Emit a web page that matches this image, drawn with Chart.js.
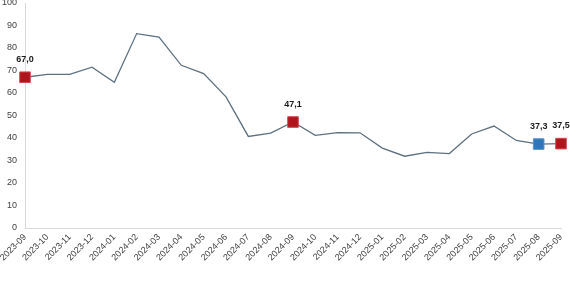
<!DOCTYPE html>
<html>
<head>
<meta charset="utf-8">
<script src="https://cdn.jsdelivr.net/npm/chart.js@4/dist/chart.umd.min.js"></script>
<style>
  html, body { margin: 0; padding: 0; background: #fff; }
  #wrap { width: 570px; height: 285px; position: relative; }
</style>
</head>
<body>
<div id="wrap"><canvas id="myChart"></canvas></div>
<script>
// --- data ---
const months = [
    '2023-09', '2023-10', '2023-11', '2023-12', '2024-01', '2024-02', '2024-03',
    '2024-04', '2024-05', '2024-06', '2024-07', '2024-08', '2024-09', '2024-10',
    '2024-11', '2024-12', '2025-01', '2025-02', '2025-03', '2025-04', '2025-05',
    '2025-06', '2025-07', '2025-08', '2025-09'
];
const values = [
    67.0, 68.3, 68.3, 71.5, 64.8, 86.4, 84.8,
    72.3, 68.6, 58.3, 40.7, 42.2, 47.1, 41.2,
    42.4, 42.3, 35.5, 31.9, 33.6, 33.1, 41.8,
    45.3, 38.9, 37.3, 37.5
];
// which points get a marker + label, and in what colour
const highlighted = ['2023-09', '2024-09', '2025-08', '2025-09'];
const blueMonths = ['2025-08'];
const yTicks = [0, 10, 20, 30, 40, 50, 60, 70, 80, 90, 100];

const RED = '#b0151d';
const BLUE = '#2f78b8';

const pointColors = months.map(m => blueMonths.includes(m) ? BLUE : RED);
const pointBorders = months.map(m => blueMonths.includes(m) ? '#5b93c9' : '#cf4a4f');
const pointRadii = months.map(m => highlighted.includes(m) ? 7.5 : 0);

// simple value labels above the marked points (comma decimal)
const valueLabels = {
    id: 'valueLabels',
    afterDatasetsDraw(chart) {
        const ctx = chart.ctx;
        const meta = chart.getDatasetMeta(0);
        ctx.save();
        ctx.font = 'bold 9px "Liberation Sans", Arial, sans-serif';
        ctx.fillStyle = '#1a1a1a';
        ctx.textAlign = 'center';
        ctx.textBaseline = 'middle';
        months.forEach((m, i) => {
            if (!highlighted.includes(m)) return;
            const pt = meta.data[i];
            ctx.fillText(values[i].toFixed(1).replace('.', ','), pt.x, pt.y - 18);
        });
        ctx.restore();
    }
};

function renderChart() {
    const ctx = document.getElementById('myChart').getContext('2d');

    const chartConfig = {
        type: 'line',
        data: {
            labels: months,
            datasets: [{
                data: values,
                borderColor: '#5d7181',
                borderWidth: 1.3,
                tension: 0,
                clip: false,
                pointStyle: 'rect',
                pointRadius: pointRadii,
                pointHoverRadius: pointRadii,
                pointBackgroundColor: pointColors,
                pointBorderColor: pointBorders,
                pointBorderWidth: 1
            }]
        },
        options: {
            responsive: true,
            maintainAspectRatio: false,
            animation: false,
            layout: {
                autoPadding: false,
                padding: { left: 0, right: 9, top: 3, bottom: 0 }
            },
            plugins: {
                legend: { display: false },
                tooltip: { enabled: false }
            },
            scales: {
                y: {
                    min: 0,
                    max: 100,
                    afterBuildTicks: (scale) => {
                        scale.ticks = yTicks.map(v => ({ value: v }));
                    },
                    afterFit: (scale) => {
                        scale.width = 25;
                        scale.paddingTop = 0;
                        scale.paddingBottom = 0;
                    },
                    grid: { display: false, drawTicks: false },
                    border: { display: true, color: '#d9d9d9', width: 1 },
                    ticks: {
                        padding: 8,
                        color: '#404040',
                        font: { size: 9, family: '"Liberation Sans", Arial, sans-serif' }
                    }
                },
                x: {
                    offset: false,
                    afterFit: (scale) => {
                        scale.height = 57;
                        scale.paddingLeft = 0;
                        scale.paddingRight = 0;
                    },
                    grid: { display: false, drawTicks: false },
                    border: { display: true, color: '#d9d9d9', width: 1 },
                    ticks: {
                        autoSkip: false,
                        minRotation: 45,
                        maxRotation: 45,
                        padding: 4,
                        color: '#404040',
                        font: { size: 9, family: '"Liberation Sans", Arial, sans-serif' }
                    }
                }
            }
        },
        plugins: [valueLabels]
    };

    new Chart(ctx, chartConfig);
}

renderChart();
</script>
</body>
</html>
